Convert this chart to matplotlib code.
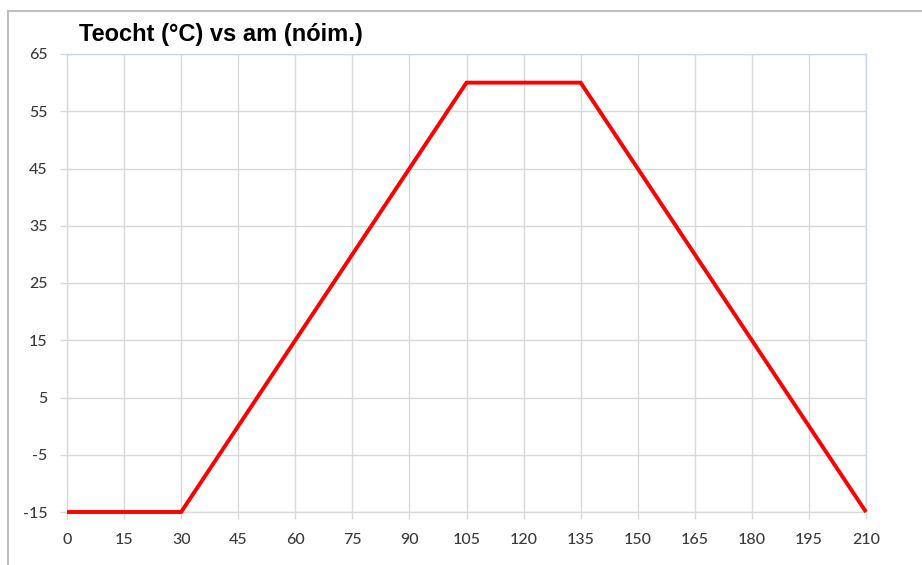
import matplotlib
matplotlib.use("Agg")
import matplotlib.pyplot as plt
from matplotlib.lines import Line2D

time_min = [0, 30, 105, 135, 210]
temp_c = [-15, -15, 60, 60, -15]
x_ticks = list(range(0, 211, 15))
y_ticks = list(range(-15, 66, 10))
title = "Teocht (°C) vs am (nóim.)"

plt.rcParams["axes.unicode_minus"] = False

fig = plt.figure(figsize=(9.22, 5.65), dpi=100)
fig.patch.set_facecolor("white")
ax = fig.add_axes([67/922, 1-512/565, (866-67)/922, (512-54)/565])

ax.plot(time_min, temp_c, color="#ff0000", lw=2.8, solid_capstyle="butt",
        solid_joinstyle="miter", zorder=3, clip_on=False)
ax.set_xlim(0, 210)
ax.set_ylim(-15, 65)
ax.set_xticks(x_ticks)
ax.set_yticks(y_ticks)
ax.grid(True, color="#d9d9d9", lw=1)
ax.set_axisbelow(True)
for s in ["top", "right"]:
    ax.spines[s].set_color("#c9d7ea")
    ax.spines[s].set_linewidth(1)
for s in ["left", "bottom"]:
    ax.spines[s].set_color("#d9d9d9")
    ax.spines[s].set_linewidth(1)
ax.tick_params(axis="both", colors="#d9d9d9", labelcolor="#3a3a3a", labelsize=11.5, length=5, width=1)
ax.tick_params(axis="y", pad=9)
ax.tick_params(axis="x", pad=10)
for lab in ax.get_xticklabels() + ax.get_yticklabels():
    lab.set_fontfamily("Lato")
    lab.set_fontweight("medium")

fig.text(79/922, 1-35/565, title, fontsize=17, fontweight="bold", color="black",
         va="center", ha="left", family="Liberation Sans")

# figure border
fig.add_artist(Line2D([8/922, 1], [1-11/565, 1-11/565], color="#bfbfbf", lw=1.5, transform=fig.transFigure))
fig.add_artist(Line2D([8/922, 8/922], [0, 1-11/565], color="#bfbfbf", lw=1.5, transform=fig.transFigure))

fig.savefig("out.png", dpi=100)
